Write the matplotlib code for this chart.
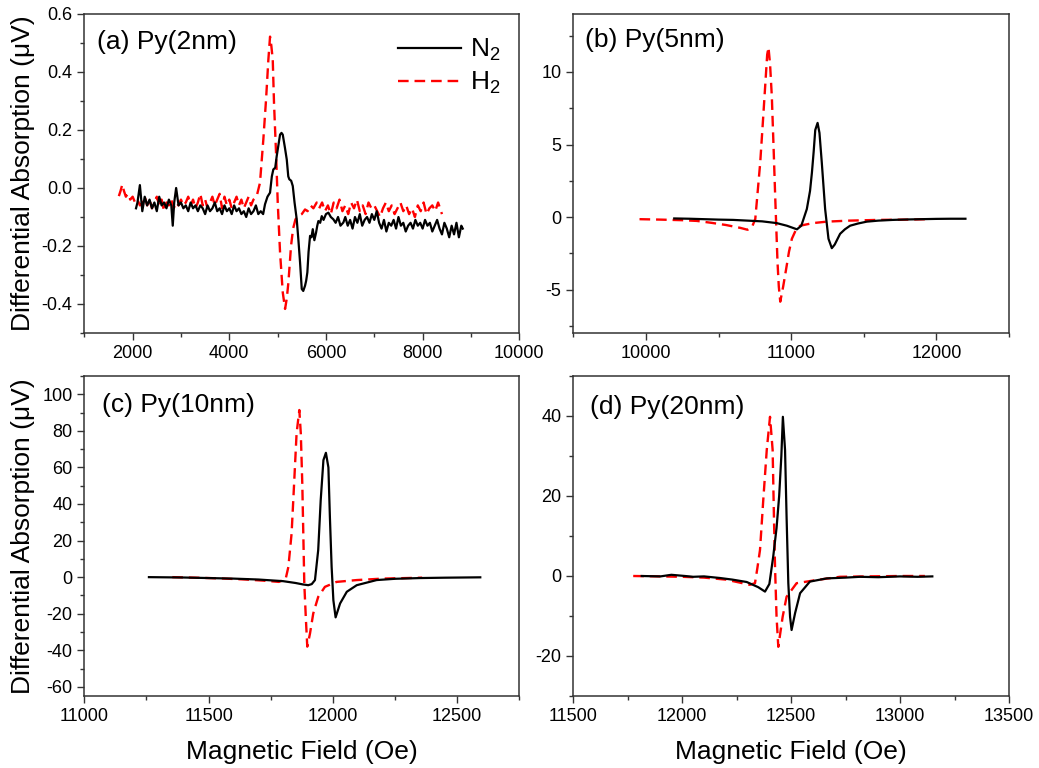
import matplotlib
matplotlib.use("Agg")
import matplotlib.pyplot as plt
from matplotlib.ticker import MultipleLocator, FormatStrFormatter
from matplotlib.lines import Line2D

plt.rcParams['font.family'] = ['Liberation Sans', 'DejaVu Sans']
plt.rcParams['mathtext.fontset'] = 'custom'
plt.rcParams['mathtext.rm'] = 'Liberation Sans'
plt.rcParams['mathtext.it'] = 'Liberation Sans:italic'
plt.rcParams['axes.unicode_minus'] = False

# ---------------- Panel (a) Py(2nm) ----------------
a_n2_x = [2070, 2100, 2150, 2200, 2250, 2300, 2350, 2400, 2450, 2500, 2550, 2600, 2650,
          2700, 2750, 2800, 2830, 2860, 2900, 2950, 3000, 3050, 3100, 3150, 3200, 3250,
          3300, 3350, 3400, 3450, 3500, 3550, 3600, 3650, 3700, 3750, 3800, 3850, 3900,
          3950, 4000, 4050, 4100, 4150, 4200, 4250, 4300, 4350, 4400, 4450, 4500, 4550,
          4600, 4650, 4700, 4739, 4790, 4843, 4880, 4911, 4950, 4981, 5050, 5080, 5106,
          5150, 5189, 5220, 5242, 5280, 5313, 5350, 5395, 5430, 5464, 5499, 5530, 5567,
          5590, 5615, 5640, 5671, 5700, 5727, 5760, 5795, 5820, 5843, 5880, 5913, 5950,
          6000, 6050, 6100, 6153, 6200, 6250, 6300, 6360, 6400, 6450, 6500, 6550, 6600,
          6650, 6700, 6750, 6800, 6850, 6900, 6950, 7000, 7050, 7100, 7150, 7200, 7250,
          7300, 7350, 7400, 7450, 7500, 7550, 7600, 7650, 7700, 7750, 7800, 7850, 7900,
          7950, 8000, 8050, 8100, 8150, 8200, 8250, 8300, 8350, 8400, 8450, 8500, 8550,
          8600, 8650, 8700, 8750, 8800, 8830]
a_n2_y = [-0.07, -0.05, 0.01, -0.08, -0.03, -0.06, -0.04, -0.07, -0.05, -0.08, -0.03, -0.06, -0.05,
          -0.07, -0.04, -0.06, -0.13, -0.05, -0.00, -0.06, -0.05, -0.07, -0.06, -0.08, -0.05, -0.07,
          -0.06, -0.08, -0.06, -0.07, -0.09, -0.06, -0.08, -0.07, -0.05, -0.08, -0.07, -0.09, -0.06,
          -0.08, -0.07, -0.09, -0.06, -0.08, -0.07, -0.09, -0.08, -0.10, -0.07, -0.09, -0.08, -0.06,
          -0.09, -0.08, -0.09, -0.056, -0.03, -0.016, 0.04, 0.064, 0.07, 0.11, 0.184, 0.19, 0.184,
          0.14, 0.098, 0.04, 0.03, 0.025, 0.007, -0.05, -0.108, -0.18, -0.257, -0.348, -0.355, -0.337,
          -0.32, -0.291, -0.22, -0.165, -0.17, -0.142, -0.18, -0.154, -0.13, -0.114, -0.12, -0.097, -0.11,
          -0.09, -0.085, -0.10, -0.108, -0.12, -0.10, -0.13, -0.119, -0.10, -0.13, -0.11, -0.14, -0.10,
          -0.12, -0.09, -0.13, -0.11, -0.10, -0.12, -0.09, -0.11, -0.08, -0.12, -0.14, -0.11, -0.15,
          -0.12, -0.13, -0.11, -0.14, -0.10, -0.13, -0.12, -0.15, -0.13, -0.12, -0.14, -0.11, -0.13,
          -0.12, -0.14, -0.11, -0.13, -0.12, -0.15, -0.13, -0.11, -0.14, -0.16, -0.12, -0.14, -0.17,
          -0.13, -0.16, -0.12, -0.17, -0.13, -0.14]

a_h2_x = [1715, 1750, 1786, 1820, 1860, 1900, 1950, 2000, 2050, 2100, 2150, 2200, 2250, 2300,
          2350, 2400, 2450, 2500, 2550, 2600, 2650, 2700, 2750, 2800, 2850, 2900, 2950, 3000,
          3050, 3100, 3150, 3200, 3250, 3300, 3350, 3400, 3450, 3500, 3550, 3600, 3650, 3700,
          3750, 3800, 3850, 3900, 3950, 4000, 4050, 4100, 4150, 4200, 4250, 4300, 4350, 4400,
          4450, 4500, 4567, 4635, 4704, 4760, 4808, 4843, 4870, 4899, 4925, 4967, 5002, 5050,
          5106, 5154, 5190, 5223, 5277, 5320, 5369, 5428, 5500, 5567, 5620, 5680, 5740, 5809,
          5860, 5920, 5980, 6040, 6100, 6160, 6220, 6280, 6340, 6400, 6460, 6520, 6580, 6640,
          6700, 6760, 6820, 6880, 6940, 7000, 7060, 7120, 7180, 7240, 7300, 7360, 7420, 7480,
          7540, 7600, 7660, 7720, 7780, 7840, 7900, 7960, 8020, 8080, 8140, 8200, 8260, 8320,
          8400]
a_h2_y = [-0.028, -0.01, 0.012, -0.01, -0.03, -0.02, -0.04, -0.03, -0.05, -0.04, -0.06, -0.05, -0.03, -0.06,
          -0.04, -0.07, -0.05, -0.03, -0.06, -0.04, -0.08, -0.05, -0.06, -0.04, -0.07, -0.05, -0.06, -0.04,
          -0.06, -0.05, -0.03, -0.06, -0.04, -0.07, -0.05, -0.02, -0.06, -0.04, -0.07, -0.05, -0.03, -0.06,
          -0.04, -0.02, -0.07, -0.03, -0.06, -0.04, -0.07, -0.05, -0.03, -0.06, -0.04, -0.07, -0.05, -0.03,
          -0.06, -0.04, -0.028, 0.018, 0.167, 0.304, 0.442, 0.522, 0.49, 0.442, 0.293, 0.121, -0.05, -0.222,
          -0.36, -0.417, -0.38, -0.325, -0.2, -0.14, -0.108, -0.097, -0.09, -0.074, -0.08, -0.06, -0.07, -0.05,
          -0.07, -0.05, -0.08, -0.06, -0.09, -0.05, -0.07, -0.04, -0.08, -0.06, -0.09, -0.05, -0.07, -0.04,
          -0.08, -0.06, -0.09, -0.05, -0.07, -0.06, -0.08, -0.10, -0.07, -0.05, -0.08, -0.06, -0.09, -0.07,
          -0.05, -0.08, -0.06, -0.09, -0.07, -0.10, -0.06, -0.08, -0.05, -0.09, -0.07, -0.06, -0.08, -0.05,
          -0.09]

# ---------------- Panel (b) Py(5nm) ----------------
b_n2_x = [10195, 10300, 10400, 10500, 10600, 10700, 10800, 10900, 10970, 11040, 11070, 11108,
          11130, 11143, 11155, 11166, 11182, 11195, 11211, 11234, 11257, 11280, 11300, 11337,
          11370, 11406, 11460, 11521, 11600, 11700, 11800, 11900, 12000, 12100, 12200]
b_n2_y = [-0.1, -0.12, -0.15, -0.18, -0.2, -0.25, -0.3, -0.42, -0.6, -0.85, -0.6, 0.55,
          1.8, 3.06, 4.5, 6.0, 6.49, 5.8, 3.75, 0.55, -1.5, -2.15, -1.9, -1.16,
          -0.85, -0.6, -0.45, -0.32, -0.25, -0.2, -0.17, -0.15, -0.13, -0.12, -0.12]

b_h2_x = [9956, 10100, 10250, 10350, 10450, 10550, 10650, 10700, 10730, 10753, 10770, 10787,
          10805, 10821, 10835, 10844, 10855, 10867, 10880, 10890, 10906, 10915, 10925, 10945,
          10966, 10985, 11005, 11030, 11062, 11150, 11246, 11400, 11600, 11800, 11945]
b_h2_y = [-0.15, -0.18, -0.22, -0.27, -0.4, -0.55, -0.75, -0.88, -0.7, -0.14, 1.8, 3.75,
          6.5, 9.0, 11.2, 11.7, 10.5, 8.3, 4.5, 1.46, -3.1, -4.8, -5.84, -4.8,
          -3.56, -2.4, -1.5, -0.95, -0.6, -0.42, -0.32, -0.25, -0.2, -0.18, -0.15]

# ---------------- Panel (c) Py(10nm) ----------------
c_n2_x = [11260, 11400, 11500, 11600, 11700, 11800, 11850, 11880, 11901, 11915, 11928, 11941,
          11951, 11962, 11972, 11982, 11988, 11995, 12002, 12011, 12029, 12056, 12096, 12176,
          12250, 12350, 12450, 12593]
c_n2_y = [0.0, -0.2, -0.5, -0.8, -1.3, -2.2, -3.2, -4.0, -4.4, -3.8, -1.6, 14.8,
          42, 64, 68, 60, 33, 5.6, -12.6, -22, -14.4, -8, -4.4, -1.6,
          -0.9, -0.5, -0.3, -0.1]

c_h2_x = [11354, 11450, 11550, 11650, 11720, 11783, 11810, 11821, 11834, 11844, 11854, 11865,
          11871, 11877, 11881, 11885, 11891, 11897, 11908, 11921, 11941, 11968, 12015, 12096,
          12200, 12359]
c_h2_y = [0.0, -0.3, -0.7, -1.3, -1.9, -2.6, -1.0, 5.6, 24, 51, 78.6, 91.4,
          78.6, 51, 24, -3.4, -21.7, -38, -30.8, -19.9, -10.8, -5.3, -2.6, -1.6,
          -0.8, -0.3]

# ---------------- Panel (d) Py(20nm) ----------------
d_n2_x = [11814, 11900, 11950, 12013, 12050, 12100, 12173, 12230, 12296, 12349, 12380, 12400,
          12418, 12433, 12445, 12455, 12462, 12472, 12479, 12487, 12495, 12502, 12518, 12541,
          12586, 12663, 12750, 12816, 12900, 13000, 13080, 13148]
d_n2_y = [0.0, -0.1, 0.3, 0.0, -0.2, -0.1, -0.5, -0.9, -1.5, -2.8, -3.9, -2.0,
          5.0, 12.0, 20.0, 30.0, 39.8, 31.5, 14.8, -1.8, -10.2, -13.5, -9.3, -4.3,
          -1.4, -0.6, -0.4, -0.2, -0.3, -0.1, -0.2, -0.1]

d_h2_x = [11775, 11900, 12000, 12100, 12200, 12260, 12310, 12334, 12345, 12357, 12372, 12388,
          12403, 12415, 12421, 12426, 12433, 12441, 12461, 12479, 12525, 12617, 12724, 12850,
          13000, 13114]
d_h2_y = [0.0, -0.1, -0.2, -0.4, -0.9, -1.6, -2.2, -1.8, 2.0, 6.5, 19, 31.5,
          39.8, 31.5, 14.8, 2.3, -10.2, -17.7, -10.2, -5.2, -1.8, -1.0, -0.2, -0.1,
          0.0, 0.0]

panel_labels = ["(a) Py(2nm)", "(b) Py(5nm)", "(c) Py(10nm)", "(d) Py(20nm)"]
legend_labels = ["N$_2$", "H$_2$"]
xlabel_text = "Magnetic Field (Oe)"
ylabel_text = "Differential Absorption (\u03bcV)"

W, H = 1039, 768
fig = plt.figure(figsize=(W / 100, H / 100), dpi=100)

def ax_at(l, r, t, b):
    return fig.add_axes([l / W, 1 - b / H, (r - l) / W, (b - t) / H])

axA = ax_at(84.3, 519.3, 14, 333)
axB = ax_at(573.3, 1009, 14, 333)
axC = ax_at(84.3, 519.3, 376, 696)
axD = ax_at(573.3, 1009, 376, 696)

FS = 19
TFS = 13
dash = (0, (4.5, 2.5))
RED = '#ff0000'

series = [
    (axA, a_n2_x, a_n2_y, a_h2_x, a_h2_y),
    (axB, b_n2_x, b_n2_y, b_h2_x, b_h2_y),
    (axC, c_n2_x, c_n2_y, c_h2_x, c_h2_y),
    (axD, d_n2_x, d_n2_y, d_h2_x, d_h2_y),
]
for ax, nx, ny, hx, hy in series:
    ax.plot(hx, hy, color=RED, lw=1.7, linestyle=dash, zorder=2)
    ax.plot(nx, ny, color='black', lw=1.6, zorder=3)

limits = {
    axA: ((1000, 10000), (-0.5, 0.6), 2000, 1000, 0.2, 0.1),
    axB: ((9500, 12500), (-8, 14), 1000, 500, 5, 2.5),
    axC: ((11000, 12750), (-65, 110), 500, 250, 20, 10),
    axD: ((11500, 13500), (-30, 50), 500, 250, 20, 10),
}
for ax, (xl, yl, xmaj, xmin, ymaj, ymin) in limits.items():
    ax.set_xlim(*xl)
    ax.set_ylim(*yl)
    ax.xaxis.set_major_locator(MultipleLocator(xmaj))
    ax.xaxis.set_minor_locator(MultipleLocator(xmin))
    ax.yaxis.set_major_locator(MultipleLocator(ymaj))
    ax.yaxis.set_minor_locator(MultipleLocator(ymin))
    ax.tick_params(which='both', direction='out', top=False, right=False,
                   labelsize=TFS, color='#333333', width=1.0)
    ax.tick_params(which='major', length=5)
    ax.tick_params(which='minor', length=3)
    for sp in ax.spines.values():
        sp.set_color('#333333')
        sp.set_linewidth(1.1)

axA.yaxis.set_major_formatter(FormatStrFormatter('%.1f'))
axA.set_yticks([-0.4, -0.2, 0.0, 0.2, 0.4, 0.6])
axB.set_yticks([-5, 0, 5, 10])
axC.set_yticks([-60, -40, -20, 0, 20, 40, 60, 80, 100])
axD.set_yticks([-20, 0, 20, 40])
axA.set_xticks([2000, 4000, 6000, 8000, 10000])
axB.set_xticks([10000, 11000, 12000])

for ax in (axA, axC):
    ax.set_ylabel(ylabel_text, fontsize=FS, labelpad=5)
for ax in (axC, axD):
    ax.set_xlabel(xlabel_text, fontsize=FS, labelpad=11)

pos = [(axA, 0.030, 0.912), (axB, 0.027, 0.918), (axC, 0.041, 0.91), (axD, 0.038, 0.904)]
for (ax, x, y), lab in zip(pos, panel_labels):
    ax.text(x, y, lab, transform=ax.transAxes, fontsize=FS, ha='left', va='center')

handles = [Line2D([], [], color='black', lw=1.6),
           Line2D([], [], color=RED, lw=1.7, linestyle=dash)]
axA.legend(handles, legend_labels, loc='upper right', bbox_to_anchor=(1.0, 0.985),
           frameon=False, fontsize=FS, handlelength=2.4, handletextpad=0.35,
           labelspacing=0.25, borderaxespad=0.3)

fig.savefig("out.png", dpi=100)
